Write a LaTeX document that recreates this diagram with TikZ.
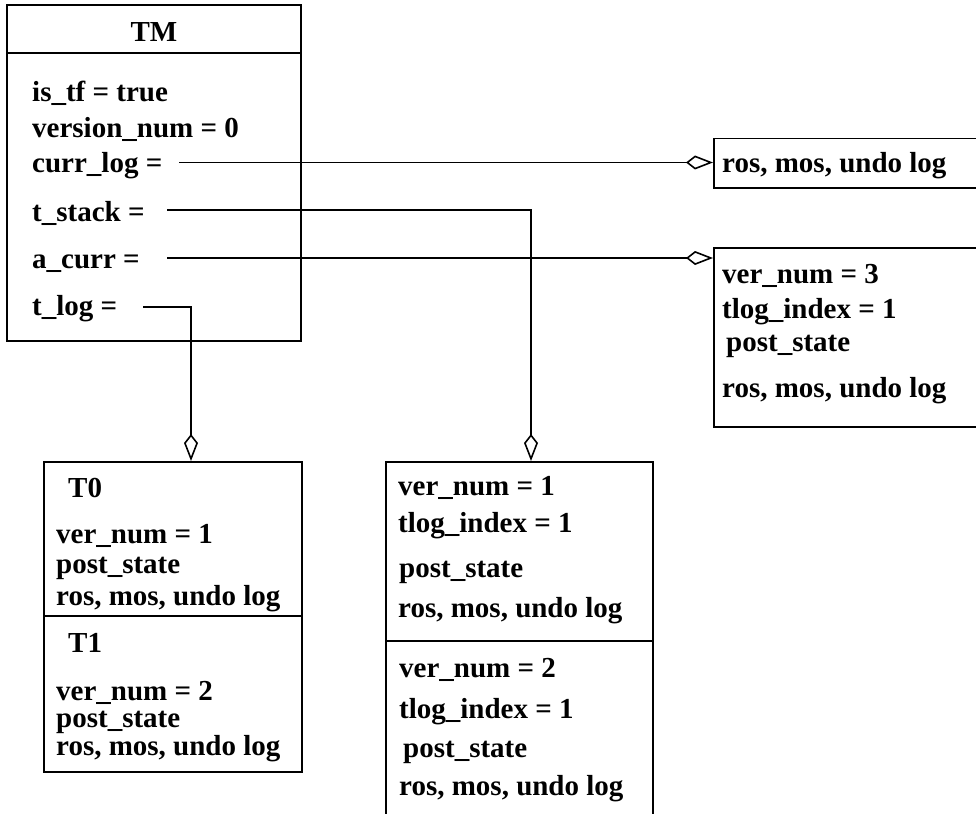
\documentclass[tikz,border=0pt]{standalone}
\usepackage{fontspec}
\setmainfont{Liberation Serif}
\usetikzlibrary{arrows.meta}
\begin{document}
\begin{tikzpicture}[x=1pt,y=-1pt,
  box/.style={draw, line width=1.5pt, inner sep=0pt},
  txt/.style={anchor=base west, inner sep=0pt, font=\fontsize{29}{34}\selectfont\bfseries},
  link/.style={line width=1.6pt, -{Kite[open, length=27pt, width=14pt, inset=9pt, line width=1.6pt]}}]
\useasboundingbox (0,0) rectangle (976,813);
% boxes
\node[box, minimum width=294pt, minimum height=336pt] (tm) at (154,173) {};
\node[box, minimum width=290pt, minimum height=49pt, anchor=north west] (r1) at (713,138) {};
\node[box, minimum width=290pt, minimum height=179pt, anchor=north west] (r2) at (713,247) {};
\node[box, minimum width=258pt, minimum height=310pt, anchor=north west] (lb) at (43,461) {};
\node[box, minimum width=267pt, minimum height=380pt, anchor=north west] (mb) at (385,461) {};
\draw[line width=1.5pt] (tm.west |- 0,53) -- (tm.east |- 0,53);
\draw[line width=1.5pt] (lb.west |- 0,616) -- (lb.east |- 0,616);
\draw[line width=1.5pt] (mb.west |- 0,641) -- (mb.east |- 0,641);
% TM texts
\node[txt, anchor=base] (tmt) at (154,42) {TM};
\node[txt] (istf) at (32,102) {is\_tf = true};
\node[txt] (ver) at (32,138) {version\_num = 0};
\node[txt] (cl) at (32,172) {curr\_log =};
\node[txt] (ts) at (32,221) {t\_stack =};
\node[txt] (ac) at (32,268) {a\_curr =};
\node[txt] (tl) at (32,315) {t\_log =};
% right box texts
\node[txt] (r1a) at (722,173) {ros, mos, undo log};
\node[txt] (r2a) at (722,283) {ver\_num = 3};
\node[txt] (r2b) at (722,318) {tlog\_index = 1};
\node[txt] (r2c) at (726,351) {post\_state};
\node[txt] (r2d) at (722,397) {ros, mos, undo log};
% left bottom box texts
\node[txt] (t0) at (68,497) {T0};
\node[txt] (l1) at (56,543) {ver\_num = 1};
\node[txt] (l2) at (56,573) {post\_state};
\node[txt] (l3) at (56,605) {ros, mos, undo log};
\node[txt] (t1) at (68,652) {T1};
\node[txt] (l4) at (56,700) {ver\_num = 2};
\node[txt] (l5) at (56,727) {post\_state};
\node[txt] (l6) at (56,755) {ros, mos, undo log};
% middle box texts
\node[txt] (m1) at (398,495) {ver\_num = 1};
\node[txt] (m2) at (398,532) {tlog\_index = 1};
\node[txt] (m3) at (399,577) {post\_state};
\node[txt] (m4) at (398,617) {ros, mos, undo log};
\node[txt] (m5) at (399,677) {ver\_num = 2};
\node[txt] (m6) at (399,718) {tlog\_index = 1};
\node[txt] (m7) at (403,757) {post\_state};
\node[txt] (m8) at (399,795) {ros, mos, undo log};
% connector start points
\coordinate (scl) at (179,162.5);
\coordinate (sts) at (167,210);
\coordinate (sac) at (167,258);
\coordinate (stl) at (143,307);
\coordinate (emb) at (531,461);
\coordinate (elb) at (191,461);
% connectors
\draw[link] (scl) -- (scl -| r1.west);
\draw[link] (sac) -- (sac -| r2.west);
\draw[link] (sts) -| (emb);
\draw[link] (stl) -| (elb);
\end{tikzpicture}
\end{document}
